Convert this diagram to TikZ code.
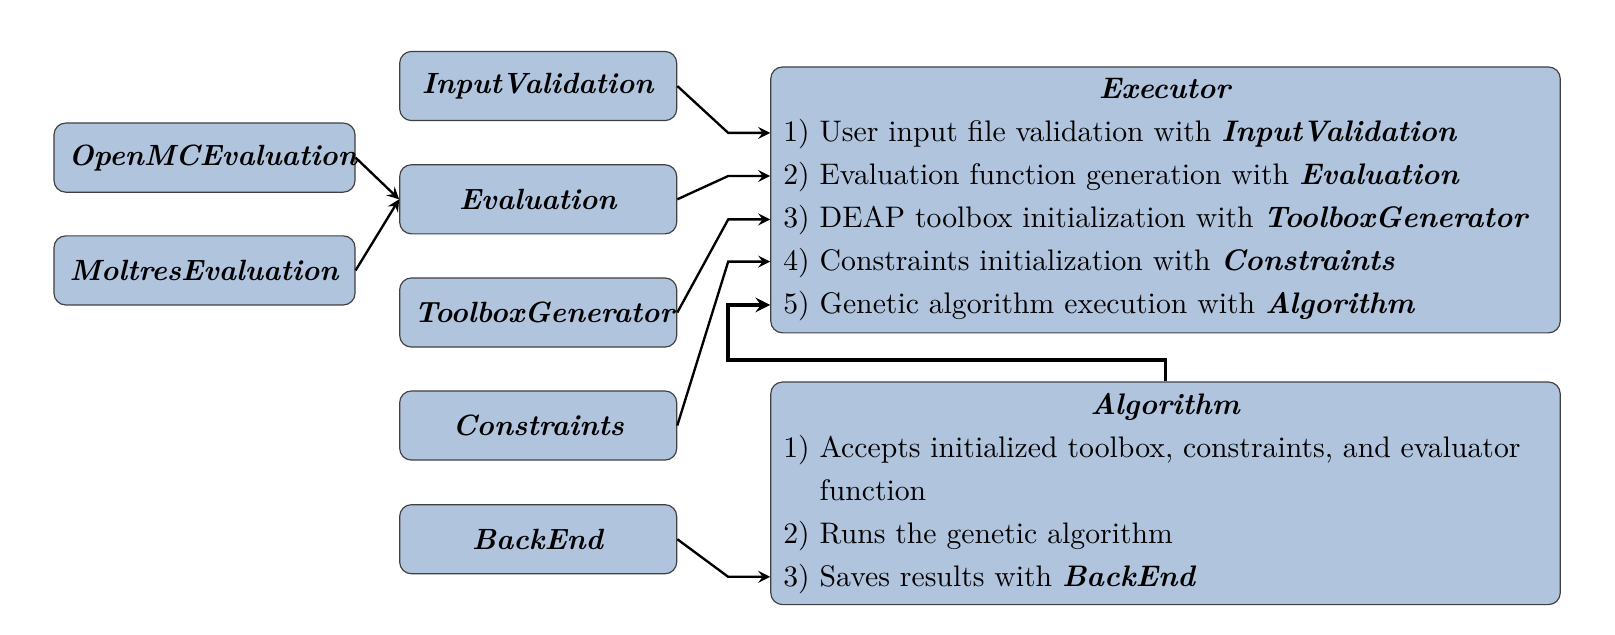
\documentclass[tikz,border=0pt]{standalone}
\usepackage{amsmath,amssymb,amsfonts}
\usepackage{tikz}
\usetikzlibrary{calc}

\definecolor{boxblue}{RGB}{176,196,222}
\newcommand{\modname}[1]{\textbf{\textit{#1}}}
\tikzset{
  modbox/.style={draw=black!75, fill=boxblue, rounded corners=4pt,
    text width=84.6pt, align=center, minimum height=23.6pt, inner sep=5pt},
  leftbox/.style={modbox, text width=92.8pt},
  stagebox/.style={draw=black!75, fill=boxblue, rounded corners=4pt,
    text width=261pt, align=left, inner xsep=4.3pt, inner ysep=3.5pt,
    font=\fontsize{10.15}{14.7}\selectfont},
  link/.style={->, >=stealth, thick},
}

\begin{document}
\begin{tikzpicture}[x=0.3415pt, y=-0.3415pt]
                \useasboundingbox (0,0) rectangle (1615,634);
                % left column
                \node[leftbox] (omc) at (204.5,157.6) {\modname{OpenMCEvaluation}};
                \node[leftbox] (mol) at (204.5,270.4) {\modname{MoltresEvaluation}};
                % middle column
                \node[modbox] (iv)   at (538.2,86.0)  {\modname{InputValidation}};
                \node[modbox] (ev)   at (538.2,199.3) {\modname{Evaluation}};
                \node[modbox] (tg)   at (538.2,312.5) {\modname{ToolboxGenerator}};
                \node[modbox] (cons) at (538.2,425.5) {\modname{Constraints}};
                \node[modbox] (be)   at (538.2,539.2) {\modname{BackEnd}};
                % right column
                \node[stagebox, minimum height=90.8pt] (exec) at (1165.5,199.9) {\hfill\modname{Executor}\hfill\null\\
                  1) User input file validation with \modname{InputValidation}\\
                  2) Evaluation function generation with \modname{Evaluation}\\
                  3) DEAP toolbox initialization with \modname{ToolboxGenerator}\\
                  4) Constraints initialization with \modname{Constraints}\\
                  5) Genetic algorithm execution with \modname{Algorithm}};
                \node[stagebox, minimum height=76pt] (alg) at (1165.5,493.3) {\hfill\modname{Algorithm}\hfill\null\\
                  1) Accepts initialized toolbox, constraints, and evaluator\\
                  \hphantom{1) }function\\
                  2) Runs the genetic algorithm\\
                  3) Saves results with \modname{BackEnd}};
                \coordinate (e1) at (exec.west |- 0,132.9);
                \coordinate (e2) at (exec.west |- 0,176.0);
                \coordinate (e3) at (exec.west |- 0,219.4);
                \coordinate (e4) at (exec.west |- 0,261.6);
                \coordinate (e5) at (exec.west |- 0,304.9);
                \coordinate (a3) at (alg.west |- 0,576.8);
                \draw[link] (omc.east) -- (ev.west);
                \draw[link] (mol.east) -- (ev.west);
                \draw[link] (iv.east) -- ($(e1)+(-42,0)$) -- (e1);
                \draw[link] (ev.east) -- ($(e2)+(-42,0)$) -- (e2);
                \draw[link] (tg.east) -- ($(e3)+(-42,0)$) -- (e3);
                \draw[link] (cons.east) -- ($(e4)+(-42,0)$) -- (e4);
                \draw[link, very thick] (alg.north) -- ++(0,-21.5) -| ($(e5)+(-42,0)$) -- (e5);
                \draw[link] (be.east) -- ($(a3)+(-42,0)$) -- (a3);
\end{tikzpicture}
\end{document}
